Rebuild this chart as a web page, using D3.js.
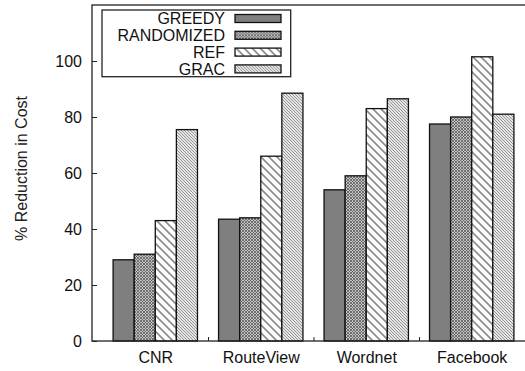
<!DOCTYPE html>
<html>
<head>
<meta charset="utf-8">
<script src="https://cdn.jsdelivr.net/npm/d3@7"></script>
<style>
  body { margin: 0; background: #fff; }
  svg { display: block; font-family: "Liberation Sans", Arial, Helvetica, sans-serif; }
</style>
</head>
<body>
<svg id="chart" width="525" height="371"></svg>
<script>
// Datasets along the x axis
const categories = ["CNR", "RouteView", "Wordnet", "Facebook"];
// Algorithms compared in each group
const seriesNames = ["GREEDY", "RANDOMIZED", "REF", "GRAC"];
// % reduction in cost per algorithm, one value per dataset
const greedy     = [29, 43.5, 54, 77.5];
const randomized = [31, 44, 59, 80];
const ref        = [43, 66, 83, 101.5];
const grac       = [75.5, 88.5, 86.5, 81];
const yTicks = [0, 20, 40, 60, 80, 100];
const yLabel = "% Reduction in Cost";

const seriesValues = [greedy, randomized, ref, grac];
const fills = ["#7f7f7f", "url(#pCross)", "url(#pSparse)", "url(#pDense)"];

const svg = d3.select("#chart");
const plot = { left: 92, top: 5, right: 535, bottom: 341 };

const x = d3.scaleLinear().domain([-0.6, 3.6]).range([plot.left, plot.right]);
const y = d3.scaleLinear().domain([0, 120]).range([plot.bottom, plot.top]);
const barW = 0.2;

// Fill patterns
const defs = svg.append("defs");
const cross = defs.append("pattern").attr("id", "pCross")
  .attr("patternUnits", "userSpaceOnUse").attr("width", 3).attr("height", 3);
cross.append("rect").attr("width", 3).attr("height", 3).attr("fill", "#c4c4c4");
cross.append("path").attr("d", "M0,0L3,3M3,0L0,3").attr("stroke", "#5a5a5a").attr("stroke-width", 0.8);

const sparse = defs.append("pattern").attr("id", "pSparse")
  .attr("patternUnits", "userSpaceOnUse").attr("width", 8).attr("height", 8);
sparse.append("rect").attr("width", 8).attr("height", 8).attr("fill", "#fff");
sparse.append("path").attr("d", "M-2,-2L10,10M-2,6L2,10M6,-2L10,2")
  .attr("stroke", "#8a8a8a").attr("stroke-width", 1.6);

const dense = defs.append("pattern").attr("id", "pDense")
  .attr("patternUnits", "userSpaceOnUse").attr("width", 3).attr("height", 3);
dense.append("rect").attr("width", 3).attr("height", 3).attr("fill", "#e6e6e6");
dense.append("path").attr("d", "M-1,-1L4,4M-1,2L1,4M2,-1L4,1")
  .attr("stroke", "#8c8c8c").attr("stroke-width", 0.9);

// Bars
const bars = [];
seriesValues.forEach((vals, s) => vals.forEach((v, i) => bars.push({ s, i, v })));
svg.append("g").selectAll("rect").data(bars).join("rect")
  .attr("x", d => x(d.i - 0.4 + d.s * barW))
  .attr("width", d => x(barW) - x(0))
  .attr("y", d => y(d.v))
  .attr("height", d => y(0) - y(d.v))
  .attr("fill", d => fills[d.s])
  .attr("stroke", "#111")
  .attr("stroke-width", 1.3);

// Frame
svg.append("rect")
  .attr("x", plot.left).attr("y", plot.top)
  .attr("width", plot.right - plot.left).attr("height", plot.bottom - plot.top)
  .attr("fill", "none").attr("stroke", "#222").attr("stroke-width", 1.3);

// Y axis with inward ticks
const yAxis = svg.append("g").attr("transform", `translate(${plot.left},0)`)
  .call(d3.axisLeft(y).tickValues(yTicks).tickSizeInner(-5).tickSizeOuter(0).tickPadding(10));
yAxis.select(".domain").remove();
yAxis.selectAll("text").attr("font-size", 16).attr("fill", "#111");
yAxis.selectAll("line").attr("stroke", "#222");

// Small separators between groups
const xSep = svg.append("g").attr("transform", `translate(0,${plot.bottom})`)
  .call(d3.axisBottom(x).tickValues([0.5, 1.5, 2.5]).tickSizeInner(-4).tickSizeOuter(0).tickFormat(""));
xSep.select(".domain").remove();
xSep.selectAll("line").attr("stroke", "#222");

// Category labels
const xAxis = svg.append("g").attr("transform", `translate(0,${plot.bottom})`)
  .call(d3.axisBottom(x).tickValues(d3.range(categories.length)).tickSize(0).tickPadding(10.6)
    .tickFormat(i => categories[i]));
xAxis.select(".domain").remove();
xAxis.selectAll("text").attr("font-size", 16).attr("fill", "#111");

// Y axis title
svg.append("text")
  .attr("transform", `translate(27,${(243 + 94) / 2}) rotate(-90)`)
  .attr("text-anchor", "middle")
  .attr("font-size", 16).attr("fill", "#222")
  .text(yLabel);

// Legend
const legend = svg.append("g");
legend.append("rect")
  .attr("x", 102).attr("y", 10).attr("width", 188.7).attr("height", 66.7)
  .attr("fill", "#fff").attr("stroke", "#222").attr("stroke-width", 1.3);
const rows = legend.selectAll("g.row").data(seriesNames).join("g")
  .attr("class", "row")
  .attr("transform", (d, i) => `translate(0,${18.5 + i * 16.8})`);
rows.append("text")
  .attr("x", 225).attr("y", 5.8)
  .attr("text-anchor", "end").attr("font-size", 16).attr("fill", "#111")
  .text(d => d);
rows.append("rect")
  .attr("x", 235).attr("y", -4).attr("width", 46).attr("height", 8)
  .attr("fill", (d, i) => fills[i])
  .attr("stroke", "#111").attr("stroke-width", 1.3);
</script>
</body>
</html>
